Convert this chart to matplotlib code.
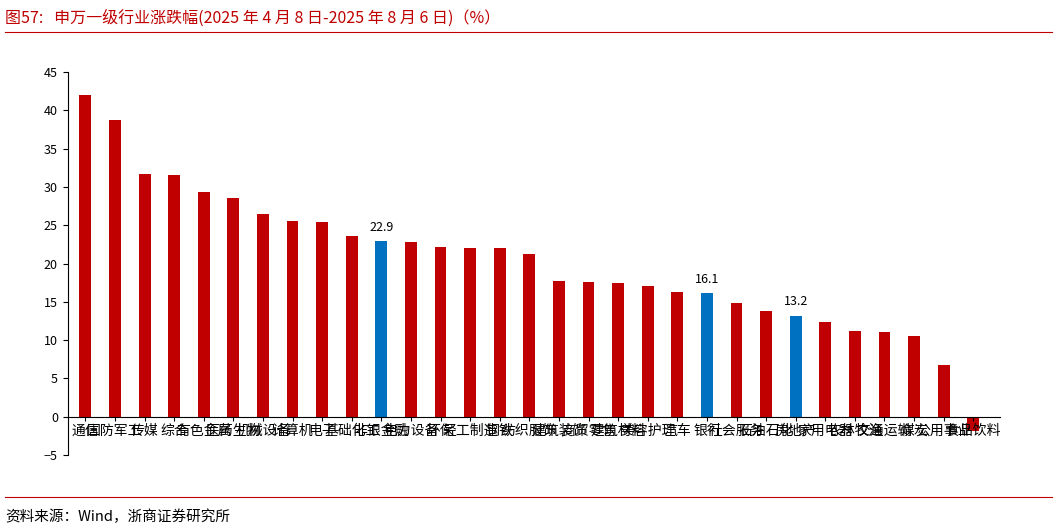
import matplotlib
matplotlib.use("Agg")
import matplotlib.pyplot as plt

plt.rcParams['font.family'] = ['Noto Sans CJK SC', 'DejaVu Sans']

industries = ['通信', '国防军工', '传媒', '综合', '有色金属', '医药生物', '机械设备', '计算机',
              '电子', '基础化工', '非银金融', '电力设备', '环保', '轻工制造', '钢铁', '纺织服饰',
              '建筑装饰', '商贸零售', '建筑材料', '美容护理', '汽车', '银行', '社会服务', '石油石化',
              '房地产', '家用电器', '农林牧渔', '交通运输', '煤炭', '公用事业', '食品饮料']
returns = [42.0, 38.8, 31.7, 31.6, 29.4, 28.5, 26.4, 25.5, 25.4, 23.6, 22.9, 22.8, 22.2, 22.0,
           22.0, 21.2, 17.7, 17.6, 17.4, 17.1, 16.3, 16.1, 14.9, 13.8, 13.2, 12.3, 11.2, 11.1,
           10.5, 6.8, -1.9]
highlight = ['非银金融', '银行', '房地产']

fig = plt.figure(figsize=(10.57, 5.3), dpi=100)
ax = fig.add_axes([0.064, 0.1415, 0.882, 0.7226])

x = list(range(len(industries)))
colors = ['#0070C0' if n in highlight else '#C00000' for n in industries]
ax.bar(x, returns, width=0.4, color=colors)
for i, n in enumerate(industries):
    if n in highlight:
        ax.text(i, returns[i] + 1, f'{returns[i]:.1f}', ha='center', va='bottom', fontsize=9)

ax.set_ylim(-5, 45)
ax.set_yticks(range(-5, 50, 5))
ax.set_yticklabels(['−5'] + [str(v) for v in range(0, 50, 5)])
ax.set_xlim(-0.6, len(industries) - 0.1)
ax.set_xticks(x)
ax.set_xticklabels(industries, fontsize=9)
for lab in ax.get_xticklabels():
    lab.set_rotation(45)
    lab.set_ha('right')
    lab.set_va('top')
    lab.set_rotation_mode('anchor')
ax.spines['top'].set_visible(False)
ax.spines['right'].set_visible(False)
ax.spines['bottom'].set_position(('data', 0))
ax.tick_params(axis='x', length=3, pad=2)
ax.tick_params(axis='y', labelsize=9)

fig.text(0.005, 0.965, '图57:   申万一级行业涨跌幅(2025 年 4 月 8 日-2025 年 8 月 6 日)（%）',
         color='#C00000', fontsize=11.5, va='center')
fig.add_artist(plt.Line2D([0.005, 0.995], [0.94, 0.94], color='#C00000', lw=0.8))
fig.add_artist(plt.Line2D([0.005, 0.995], [0.062, 0.062], color='#C00000', lw=0.8))
fig.text(0.005, 0.025, '资料来源：Wind，浙商证券研究所', fontsize=10.5, va='center')

fig.savefig('out.png')
